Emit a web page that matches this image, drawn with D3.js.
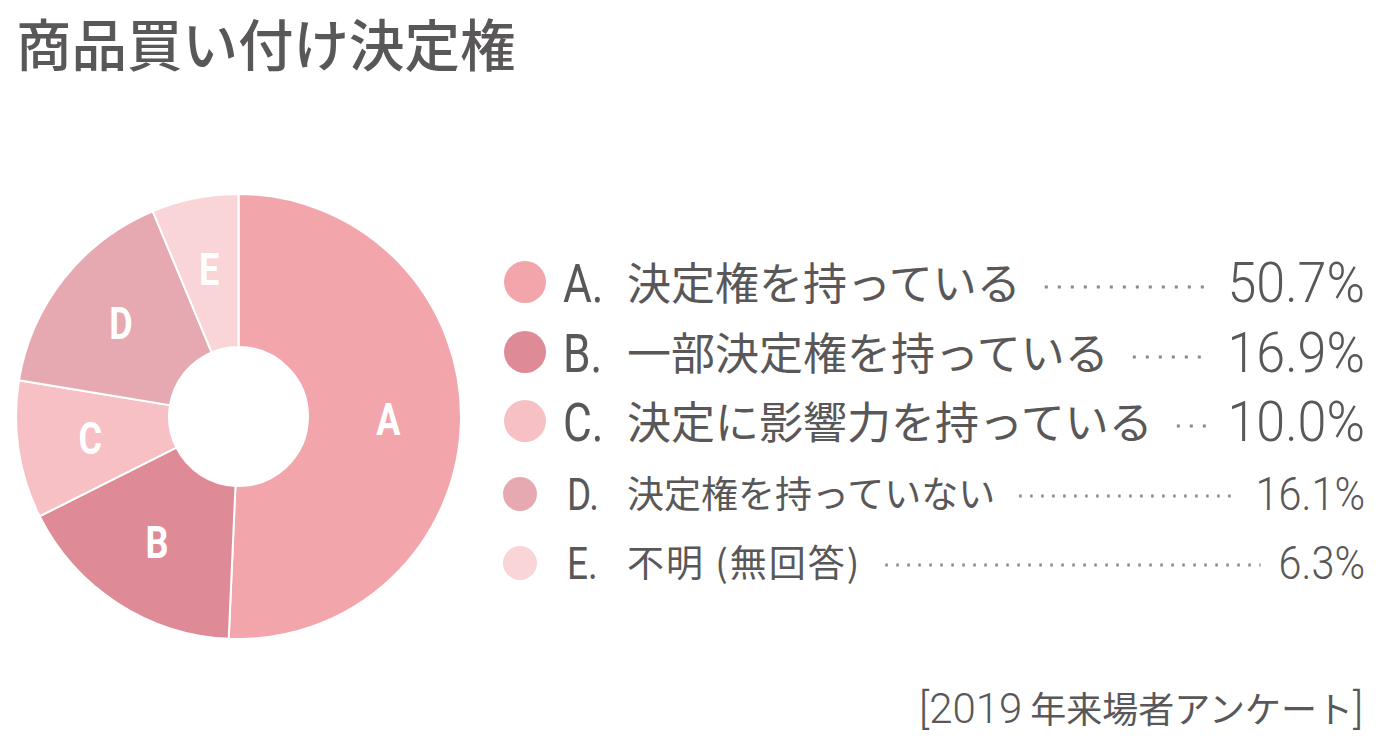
<!DOCTYPE html>
<html><head><meta charset="utf-8">
<script src="https://cdn.jsdelivr.net/npm/d3@7"></script>
<style>body{margin:0;background:#fff;overflow:hidden}</style>
</head><body><svg id="c" width="1379" height="746"></svg>
<script>
const titleText = "商品買い付け決定権";
const letters = ["A", "B", "C", "D", "E"];
const labels = ["決定権を持っている", "一部決定権を持っている", "決定に影響力を持っている", "決定権を持っていない", "不明 (無回答)"];
const values = [50.7, 16.9, 10.0, 16.1, 6.3];
const colors = ["#f2a5ab", "#de8a97", "#f6c0c4", "#e6a9b1", "#f9d5d7"];
const sourceYear = "[2019";
const sourceText = "年来場者アンケート";
const sourceClose = "]";

const textColor = "#595757";
const svg = d3.select("#c");
const data = letters.map((l, i) => ({ letter: l, label: labels[i], value: values[i], color: colors[i] }));

// title
svg.append("text").attr("x", 16).attr("y", 66)
  .attr("font-family", "'Noto Sans CJK JP'").attr("font-weight", 500)
  .attr("font-size", 55.5).attr("fill", textColor).text(titleText);

// donut
const cx = 238.5, cy = 416.5, rOuter = 222.5, rInner = 69.5;
const pie = d3.pie().value(d => d.value).sort(null);
const arc = d3.arc().innerRadius(rInner).outerRadius(rOuter);
const labelArc = d3.arc().innerRadius(150).outerRadius(150);
const g = svg.append("g").attr("transform", `translate(${cx},${cy})`);
const arcs = pie(data);
g.selectAll("path").data(arcs).join("path")
  .attr("d", arc).attr("fill", d => d.data.color)
  .attr("stroke", "#fff").attr("stroke-width", 2);
g.selectAll("text").data(arcs).join("text")
  .attr("transform", d => { const [x, y] = labelArc.centroid(d); return `translate(${x},${y}) scale(0.8,1)`; })
  .attr("text-anchor", "middle").attr("dominant-baseline", "central")
  .attr("font-family", "Roboto").attr("font-weight", 700).attr("font-size", 45)
  .attr("fill", "#fff").text(d => d.data.letter);

// legend
const big = [true, true, true, false, false];
const rowBase = [302, 372, 441, 510, 579];
const pctRight = 1365;
data.forEach((d, i) => {
  const b = big[i];
  const y = rowBase[i];
  svg.append("circle").attr("cx", b ? 525 : 520).attr("cy", y - (b ? 20 : 16))
    .attr("r", b ? 21 : 17).attr("fill", d.color);
  svg.append("text").attr("transform", `translate(${b ? 563 : 567},${y}) scale(0.82,1)`)
    .attr("font-family", "Roboto").attr("font-weight", 400).attr("font-size", b ? 54 : 45)
    .attr("fill", textColor).text(d.letter + ".");
  const lab = svg.append("text").attr("x", 627).attr("y", y - 2)
    .attr("font-family", "'Noto Sans CJK JP'").attr("font-size", b ? 44 : 37)
    .attr("letter-spacing", i === 4 ? 2 : 0)
    .attr("fill", textColor).text(d.label);
  const pct = svg.append("text").attr("transform", `translate(${pctRight},${y}) scale(${b ? 0.93 : 0.9},1)`)
    .attr("text-anchor", "end")
    .attr("font-family", "Roboto").attr("font-weight", 300).attr("font-size", b ? 56 : 46)
    .attr("fill", textColor).text(d3.format(".1f")(d.value) + "%");
  const lb = lab.node().getBBox();
  const pb = pct.node().getBoundingClientRect();
  const x1 = lb.x + lb.width + 24, x2 = pb.left - 18;
  const ly = y - (b ? 15 : 14);
  svg.append("line").attr("x1", x1).attr("x2", x2).attr("y1", ly).attr("y2", ly)
    .attr("stroke", "#8a8888").attr("stroke-width", 3)
    .attr("stroke-dasharray", b ? "3 10" : "2.5 8.5");
});

// source
const src = svg.append("text").attr("x", 1363).attr("y", 723).attr("text-anchor", "end")
  .attr("fill", textColor);
src.append("tspan").attr("font-family", "Roboto").attr("font-weight", 300).attr("font-size", 42).text(sourceYear);
src.append("tspan").attr("font-family", "'Noto Sans CJK JP'").attr("font-size", 36).attr("dx", 8).text(sourceText);
src.append("tspan").attr("font-family", "Roboto").attr("font-weight", 300).attr("font-size", 42).text(sourceClose);
</script></body></html>
